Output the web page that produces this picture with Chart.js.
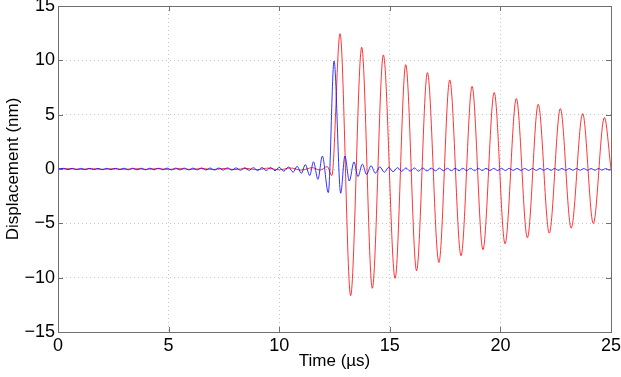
<!DOCTYPE html>
<html>
<head>
<meta charset="utf-8">
<script src="https://cdn.jsdelivr.net/npm/chart.js@4"></script>
<style>
  html, body { margin: 0; padding: 0; background: #fff; }
  canvas { display: block; }
</style>
</head>
<body>
<canvas id="chart" width="621" height="377"></canvas>
<script>
// axis ticks
const xTicks = [0, 5, 10, 15, 20, 25];
const yTicks = [-15, -10, -5, 0, 5, 10, 15];

// blue trace (time in µs, displacement in nm) - read at each turning point
const blueTime = [
  0, 0.25, 0.45, 0.64, 0.84, 1.03, 1.23, 1.42, 1.62, 1.81, 2.01, 2.2, 2.4, 2.59, 2.79,
  2.98, 3.18, 3.37, 3.57, 3.76, 3.96, 4.15, 4.35, 4.54, 4.74, 4.93, 5.13, 5.32, 5.52,
  5.71, 5.91, 6.1, 6.3, 6.49, 6.69, 6.88, 7.08, 7.27, 7.47, 7.66, 7.86, 8.05, 8.25,
  8.44, 8.64, 8.83, 9.03, 9.22, 9.42, 9.61, 9.81, 10.0, 10.21, 10.42, 10.63, 10.81,
  11.0, 11.18, 11.38, 11.55, 11.75, 11.95, 12.22, 12.48, 12.78, 12.97, 13.17, 13.38,
  13.56, 13.76, 13.95, 14.15, 14.35, 14.55, 14.75, 14.95, 15.15, 15.35, 15.54, 15.73,
  15.92, 16.11, 16.3, 16.49, 16.68, 16.87, 17.06, 17.24, 17.42, 17.6, 17.78, 17.95,
  18.13, 18.3, 18.48, 18.65, 18.83, 19.0, 19.18, 19.35, 19.53, 19.7, 19.88, 20.05,
  20.23, 20.4, 20.58, 20.75, 20.93, 21.1, 21.28, 21.45, 21.62, 21.79, 21.96, 22.12,
  22.29, 22.45, 22.62, 22.78, 22.95, 23.11, 23.28, 23.44, 23.61, 23.77, 23.94, 24.1,
  24.27, 24.43, 24.6, 24.76, 24.93, 25.0
];
const blueDisp = [
  0, 0.06, -0.06, 0.06, -0.06, 0.06, -0.06, 0.06, -0.06, 0.06, -0.06, 0.06, -0.06, 0.06, -0.06,
  0.07, -0.07, 0.07, -0.07, 0.07, -0.07, 0.07, -0.07, 0.07, -0.07, 0.08, -0.08, 0.08, -0.08,
  0.08, -0.08, 0.08, -0.08, 0.09, -0.09, 0.09, -0.09, 0.09, -0.1, 0.1, -0.1, 0.1, -0.11,
  0.11, -0.12, 0.12, -0.13, 0.13, -0.14, 0.14, -0.16, 0.15, -0.2, 0.18, -0.3, 0.25,
  -0.4, 0.4, -0.6, 0.67, -0.95, 1.19, -2.17, 9.94, -2.23, 1.19, -1.1, 0.65,
  -0.7, 0.45, -0.5, 0.3, -0.38, 0.2, -0.3, 0.15, -0.25, 0.12, -0.22, 0.1,
  -0.2, 0.1, -0.2, 0.09, -0.18, 0.08, -0.17, 0.08, -0.16, 0.07, -0.16, 0.07,
  -0.15, 0.07, -0.15, 0.07, -0.15, 0.06, -0.14, 0.06, -0.14, 0.06, -0.14, 0.06,
  -0.14, 0.06, -0.13, 0.05, -0.13, 0.05, -0.13, 0.05, -0.13, 0.05, -0.12, 0.05,
  -0.12, 0.05, -0.12, 0.05, -0.12, 0.04, -0.11, 0.04, -0.11, 0.04, -0.11, 0.04,
  -0.11, 0.04, -0.1, 0.04, -0.1, -0.05
];

// red trace
const redTime = [
  0, 0.5, 1.0, 1.5, 2.0, 2.5, 3.0, 3.5, 4.0, 4.5, 5.0, 5.5, 6.0, 6.5, 7.0, 7.5, 8.0,
  8.5, 9.0, 9.5, 10.0, 10.5, 11.0, 11.5, 11.85, 12.17, 12.38, 12.75, 13.23, 13.73,
  14.21, 14.71, 15.24, 15.72, 16.21, 16.7, 17.22, 17.71, 18.22, 18.72, 19.21, 19.72,
  20.21, 20.72, 21.22, 21.71, 22.21, 22.71, 23.2, 23.72, 24.2, 24.7, 25.0
];
const redDisp = [
  0, 0.03, -0.03, 0.03, -0.03, 0.03, -0.03, 0.03, -0.03, 0.04, -0.04, 0.04, -0.04, 0.05, -0.05, 0.05, -0.06,
  0.06, -0.07, 0.08, -0.08, 0.1, -0.1, 0.12, -0.1, 0.22, -0.6, 12.45, -11.65, 11.2,
  -10.98, 10.5, -10.06, 9.6, -9.36, 8.87, -8.6, 8.2, -7.98, 7.6, -7.43, 7.03,
  -6.88, 6.48, -6.33, 5.96, -5.9, 5.56, -5.44, 5.1, -5.02, 4.74, 0
];

const axisColor = "#6f6f6f";
const fontFamily = "'Liberation Sans', Arial, sans-serif";

function pairUp(ts, vs) {
  return ts.map((t, i) => ({ x: t, y: vs[i] }));
}

// box round the plot area with inward tick marks (matlab style)
const boxTicks = {
  id: "boxTicks",
  afterDraw(chart) {
    const { ctx, chartArea: a, scales } = chart;
    const x = scales.x;
    const y = scales.y;
    ctx.save();
    ctx.strokeStyle = axisColor;
    ctx.lineWidth = 1;
    ctx.strokeRect(Math.round(a.left) + 0.5, Math.round(a.top) + 0.5,
      Math.round(a.right - a.left), Math.round(a.bottom - a.top));
    ctx.beginPath();
    xTicks.forEach((v) => {
      const px = Math.round(x.getPixelForValue(v)) + 0.5;
      ctx.moveTo(px, a.bottom); ctx.lineTo(px, a.bottom - 5);
      ctx.moveTo(px, a.top); ctx.lineTo(px, a.top + 5);
    });
    yTicks.forEach((v) => {
      const py = Math.round(y.getPixelForValue(v)) + 0.5;
      ctx.moveTo(a.left, py); ctx.lineTo(a.left + 5, py);
      ctx.moveTo(a.right, py); ctx.lineTo(a.right - 5, py);
    });
    ctx.stroke();
    ctx.restore();
  },
};

const config = {
  type: "line",
  data: {
    datasets: [
      {
        label: "blue",
        data: pairUp(blueTime, blueDisp),
        borderColor: "#0000ff",
        borderWidth: 0.8,
        cubicInterpolationMode: "monotone",
      },
      {
        label: "red",
        data: pairUp(redTime, redDisp),
        borderColor: "#ff0000",
        borderWidth: 0.8,
        cubicInterpolationMode: "monotone",
      },
    ],
  },
  options: {
    responsive: false,
    animation: false,
    devicePixelRatio: 1,
    layout: { padding: { top: 6, right: 10, left: 0, bottom: 0 } },
    elements: { point: { radius: 0 } },
    plugins: {
      legend: { display: false },
      tooltip: { enabled: false },
    },
    scales: {
      x: {
        type: "linear",
        min: 0,
        max: 25,
        afterBuildTicks: (s) => { s.ticks = xTicks.map((v) => ({ value: v })); },
        afterFit: (s) => { s.height = 45; s.paddingLeft = 0; s.paddingRight = 0; },
        grid: { color: "#c4c4c4", drawTicks: false },
        border: { display: false, dash: [1, 3] },
        ticks: { color: "#000", padding: 3, maxRotation: 0, font: { family: fontFamily, size: 18 } },
        title: {
          display: true,
          text: "Time (µs)",
          color: "#000",
          font: { family: fontFamily, size: 17 },
          padding: { top: 0, bottom: 5 },
        },
      },
      y: {
        min: -15,
        max: 15,
        afterBuildTicks: (s) => { s.ticks = yTicks.map((v) => ({ value: v })); },
        afterFit: (s) => { s.width = 58; s.paddingTop = 0; s.paddingBottom = 0; },
        grid: { color: "#c4c4c4", drawTicks: false },
        border: { display: false, dash: [1, 3] },
        ticks: {
          color: "#000",
          padding: 3,
          font: { family: fontFamily, size: 18 },
          callback: (v) => (v < 0 ? "\u2212" + Math.abs(v) : String(v)),
        },
        title: {
          display: true,
          text: "Displacement (nm)",
          color: "#000",
          font: { family: fontFamily, size: 17 },
          padding: { top: 3, bottom: 0 },
        },
      },
    },
  },
  plugins: [boxTicks],
};

new Chart(document.getElementById("chart").getContext("2d"), config);
</script>
</body>
</html>
